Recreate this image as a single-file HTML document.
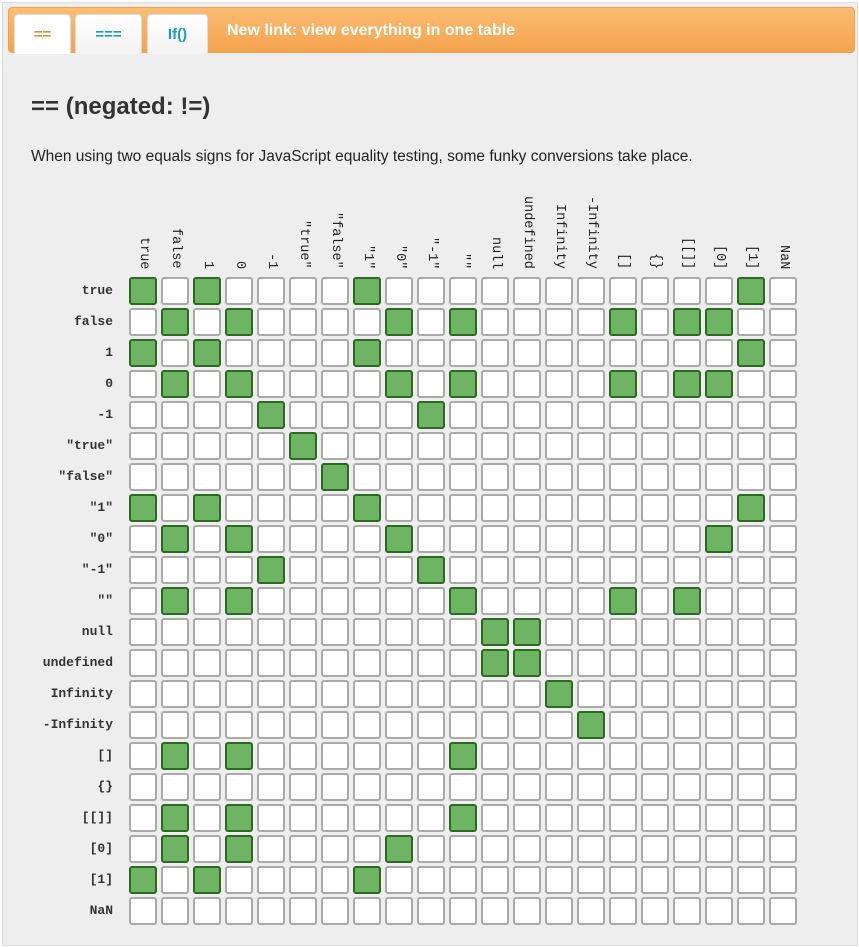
<!DOCTYPE html>
<html><head><meta charset="utf-8">
<style>
html,body{margin:0;padding:0;background:#fff;width:859px;height:947px;overflow:hidden;font-family:"Liberation Sans",sans-serif}
#page{position:absolute;left:2px;top:2px;width:854px;height:942px;background:#eeeeee;border:1px solid #ddd}
#bar{position:absolute;left:5px;top:4px;width:847px;height:46px;border-radius:4px;background:linear-gradient(#fbbd74,#f5a34d);border:1px solid #eea050;box-sizing:border-box}
.tab{position:absolute;top:6px;height:40px;background:linear-gradient(#fff,#f2f2f2);border:1px solid #ddd;border-bottom:none;border-radius:4px 4px 0 0;box-sizing:border-box;text-align:center;line-height:40px;font-size:15px;font-weight:bold;color:#1a9cc8}
#link{position:absolute;left:218px;top:0;line-height:46px;color:#fff;font-weight:bold;font-size:16px}
h1{position:absolute;left:28px;top:90px;margin:0;font-size:24px;color:#333;font-weight:bold}
#desc{position:absolute;left:28px;top:145px;font-size:15.5px;color:#222}
.cell{position:absolute;width:28px;height:28px;box-sizing:border-box;border:2px solid #aaa;border-radius:3px;background:#fff}
.cell.on{background:#6db463;border-color:#2b6a20}
.rl{position:absolute;right:746px;font-family:"Liberation Mono",monospace;font-weight:bold;font-size:13px;color:#333;line-height:16px;white-space:pre}
.cl{position:absolute;writing-mode:vertical-rl;font-family:"Liberation Mono",monospace;font-size:13.5px;color:#222;line-height:16px;white-space:pre}
</style></head><body>
<div id="page">
 <div id="bar">
  <div class="tab" style="left:5px;width:57px;color:#f08a30;background:#fff">==</div>
  <div class="tab" style="left:66px;width:67px">===</div>
  <div class="tab" style="left:138px;width:61px">If()</div>
  <div id="link">New link: view everything in one table</div>
 </div>
 <h1>== (negated: !=)</h1>
 <div id="desc">When using two equals signs for JavaScript equality testing, some funky conversions take place.</div>
</div>
<div id="grid"></div>
<script>
const labels = ['true','false','1','0','-1','"true"','"false"','"1"','"0"','"-1"','""','null','undefined','Infinity','-Infinity','[]','{}','[[]]','[0]','[1]','NaN'];
const equalPairs = [
 ['true',['true','1','"1"','[1]']],
 ['false',['false','0','"0"','""','[]','[[]]','[0]']],
 ['1',['true','1','"1"','[1]']],
 ['0',['false','0','"0"','""','[]','[[]]','[0]']],
 ['-1',['-1','"-1"']],
 ['"true"',['"true"']],
 ['"false"',['"false"']],
 ['"1"',['true','1','"1"','[1]']],
 ['"0"',['false','0','"0"','[0]']],
 ['"-1"',['-1','"-1"']],
 ['""',['false','0','""','[]','[[]]']],
 ['null',['null','undefined']],
 ['undefined',['null','undefined']],
 ['Infinity',['Infinity']],
 ['-Infinity',['-Infinity']],
 ['[]',['false','0','""']],
 ['{}',[]],
 ['[[]]',['false','0','""']],
 ['[0]',['false','0','"0"']],
 ['[1]',['true','1','"1"']],
 ['NaN',[]]
];
const g=document.getElementById('grid');
const x0=129,y0=277,px=32,py=31;
function colX(j){return x0+px*j;}
function rowY(i){return y0+py*i;}
const eq={};equalPairs.forEach(p=>eq[p[0]]=new Set(p[1]));
labels.forEach((c,j)=>{
 const d=document.createElement('div');
 
 
 d.className='cl';d.textContent=c;
 d.style.left=(colX(j)+6)+'px';d.style.bottom=(947-269)+'px';
 g.appendChild(d);
});
labels.forEach((r,i)=>{
 const l=document.createElement('div');
 
 
 l.className='rl';l.textContent=r;l.style.top=(rowY(i)+6)+'px';
 g.appendChild(l);
 labels.forEach((c,j)=>{
  const d=document.createElement('div');
  
  
  d.className='cell'+(eq[r]&&eq[r].has(c)?' on':'');
  d.style.left=colX(j)+'px';d.style.top=rowY(i)+'px';
  d.title=r+' == '+c;
  g.appendChild(d);
 });
});
</script>
</body></html>
